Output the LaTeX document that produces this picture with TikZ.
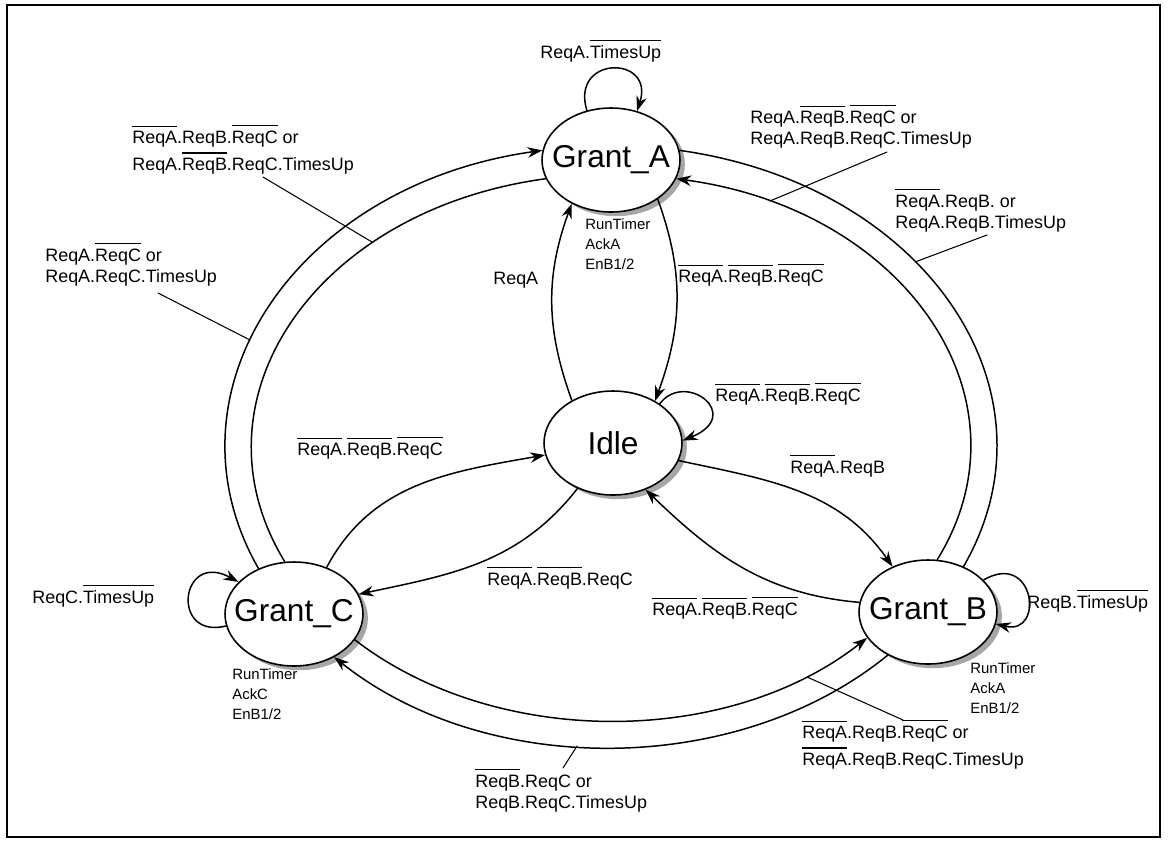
\documentclass[tikz,border=0pt]{standalone}
\usepackage{fontspec}
\setmainfont{Liberation Sans}
\usetikzlibrary{arrows.meta,shapes.geometric,shadows}

\newcommand{\ovl}[1]{\leavevmode\vbox{\hrule height 0.6pt\kern 2.6pt\hbox{#1}}}
\newcommand{\lblfont}{\fontsize{10.2}{12}\selectfont\lineskip=3pt}

\begin{document}
\begin{tikzpicture}[x=0.02cm, y=-0.02cm, >={Stealth[length=8.5pt,width=6pt]}, line cap=round,
	state/.style={ellipse, draw, line width=0.9pt, fill=white, inner sep=0pt,
		minimum width=2.76cm, minimum height=2.08cm,
		drop shadow={shadow xshift=2.8pt, shadow yshift=-2.4pt, fill=black!35, opacity=1}},
	statename/.style={font=\fontsize{18}{20}\selectfont, inner sep=0pt},
	trans/.style={line width=0.85pt},
	lead/.style={line width=0.6pt},
	cond/.style={font=\lblfont, align=left, inner sep=0pt, anchor=north west},
	outs/.style={font=\fontsize{8.5}{11.4}\selectfont, align=left, inner sep=0pt, anchor=north west}]

	\useasboundingbox (0,0) rectangle (1170,843);

	% ---- cornice ----
	\draw[line width=0.8pt] (7,5) rectangle (1160,837);

	% ---- stati ----
	\node[state] (ga) at (611,160) {};
	\node[state] (idle) at (613,443) {};
	\node[state] (gc) at (294,614) {};
	\node[state] (gb) at (928,612) {};
	\node[statename] (gaT) at (ga) {Grant\_A};
	\node[statename] (idleT) at (idle) {Idle};
	\node[statename] (gcT) at (gc) {Grant\_C};
	\node[statename] (gbT) at (gb) {Grant\_B};

	% ---- anello esterno e interno ----
	\draw[trans,->] (gc.128) .. controls (157,391) and (296,185) .. (ga.172);
	\draw[trans] (ga.196) .. controls (315,210) and (186,400) .. (gc.100);
	\draw[trans] (ga.8) .. controls (926,185) and (1065,391) .. (gb.52);
	\draw[trans,->] (gb.80) .. controls (1036,400) and (907,210) .. (ga.344);
	\draw[trans,->] (gb.227) .. controls (737,778) and (486,778) .. (gc.313);
	\draw[trans,->] (gc.337) .. controls (495,748) and (727,748) .. (gb.203);

	% ---- transizioni verso e da Idle ----
	\draw[trans,->] (idle.134) to[out=110, in=250] (ga.228);
	\draw[trans,->] (ga.320) to[out=-70, in=70] (idle.45);
	\draw[trans,->] (idle.345) to[out=-12, in=125] (gb.128);
	\draw[trans,->] (gb.172) to[out=175, in=-44] (idle.305);
	\draw[trans,->] (gc.55) to[out=62, in=190] (idle.190);
	\draw[trans,->] (idle.232) to[out=232, in=12] (gc.17);

	% ---- anelli su se stessi ----
	\draw[trans,->] (ga.116) .. controls (570,55) and (655,55) .. (ga.62);
	\draw[trans,->] (idle.40) .. controls (685,370) and (745,415) .. (idle.2);
	\draw[trans,->] (gc.190) .. controls (170,640) and (180,550) .. (gc.150);
	\draw[trans,->] (gb.30) .. controls (1035,550) and (1045,636) .. (gb.350);

	% ---- condizioni ----
	\node[cond] (lAloop) at (540,40) {ReqA.\ovl{TimesUp}};
	\node[cond] (lIA) at (493,272) {ReqA};
	\node[cond] (lAI) at (678,264) {\ovl{ReqA}.\ovl{ReqB}.\ovl{ReqC}};
	\node[cond] (lII) at (715,383) {\ovl{ReqA}.\ovl{ReqB}.\ovl{ReqC}};
	\node[cond] (lIB) at (790,455) {\ovl{ReqA}.ReqB};
	\node[cond] (lCI) at (297,437) {\ovl{ReqA}.\ovl{ReqB}.\ovl{ReqC}};
	\node[cond] (lIC) at (487,567) {\ovl{ReqA}.\ovl{ReqB}.ReqC};
	\node[cond] (lBI) at (652,597) {\ovl{ReqA}.\ovl{ReqB}.\ovl{ReqC}};
	\node[cond] (lCC) at (32,585) {ReqC.\ovl{TimesUp}};
	\node[cond] (lBB) at (1027,590) {ReqB.\ovl{TimesUp}};
	\node[cond] (lAC) at (132,125) {\ovl{ReqA}.ReqB.\ovl{ReqC} or\\ReqA.\ovl{ReqB}.ReqC.TimesUp};
	\node[cond] (lCA) at (45,243) {ReqA.\ovl{ReqC} or\\ReqA.ReqC.TimesUp};
	\node[cond] (lBA) at (750,105) {ReqA.\ovl{ReqB}.\ovl{ReqC} or\\ReqA.ReqB.ReqC.TimesUp};
	\node[cond] (lAB) at (895,189) {\ovl{ReqA}.ReqB. or\\ReqA.ReqB.TimesUp};
	\node[cond] (lCB) at (802,720) {\ovl{ReqA}.ReqB.\ovl{ReqC} or\\\ovl{ReqA}.ReqB.ReqC.TimesUp};
	\node[cond] (lBC) at (475,769) {\ovl{ReqB}.ReqC or\\ReqB.ReqC.TimesUp};

	% ---- uscite ----
	\node[outs] (oA) at (585,218) {RunTimer\\AckA\\EnB1/2};
	\node[outs] (oB) at (970,662) {RunTimer\\AckA\\EnB1/2};
	\node[outs] (oC) at (232,668) {RunTimer\\AckC\\EnB1/2};

	% ---- linee di richiamo ----
	\coordinate (kAC) at (263,177); \coordinate (rAC) at (372,242);
	\coordinate (kCA) at (158,293); \coordinate (rCA) at (250,340);
	\coordinate (kBA) at (887,152); \coordinate (rBA) at (770,201);
	\coordinate (kAB) at (987,235); \coordinate (rAB) at (915,262);
	\coordinate (kCB) at (903,720); \coordinate (rCB) at (807,677);
	\coordinate (kBC) at (563,768); \coordinate (rBC) at (577,746);
	\foreach \k/\r in {kAC/rAC, kCA/rCA, kBA/rBA, kAB/rAB, kCB/rCB, kBC/rBC}
		\draw[lead] (\k) -- (\r);

\end{tikzpicture}
\end{document}
